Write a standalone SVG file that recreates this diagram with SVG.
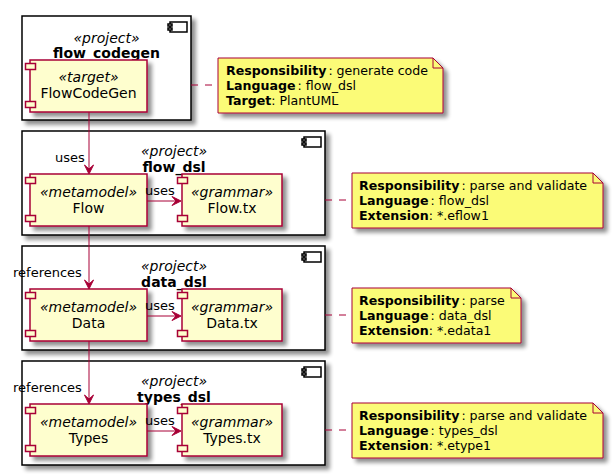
<svg xmlns="http://www.w3.org/2000/svg" width="613" height="475" viewBox="0 0 613 475">
<defs>
<filter id="sh" x="-10%" y="-10%" width="130%" height="130%">
<feGaussianBlur in="SourceAlpha" stdDeviation="2"/>
<feOffset dx="4" dy="4" result="b"/>
<feComponentTransfer><feFuncA type="linear" slope="0.45"/></feComponentTransfer>
<feMerge><feMergeNode/><feMergeNode in="SourceGraphic"/></feMerge>
</filter>
<g id="icon">
<rect x="2" y="0" width="17" height="10" fill="#FFFFFF" stroke="#000000" stroke-width="1.5"/>
<rect x="0" y="2" width="4" height="2" fill="#FFFFFF" stroke="#000000" stroke-width="1.5"/>
<rect x="0" y="6" width="4" height="2" fill="#FFFFFF" stroke="#000000" stroke-width="1.5"/>
</g>
</defs>
<style>
.proj{fill:#FFFFFF;stroke:#000000;stroke-width:1.5}
.comp{fill:#FEFECE;stroke:#A80036;stroke-width:1.5}
.tab{fill:#FEFECE;stroke:#A80036;stroke-width:1.5}
.note{fill:#FBFB77;stroke:#A80036;stroke-width:1}
.fold{fill:none;stroke:#A80036;stroke-width:1}
.t{font-family:"DejaVu Sans",sans-serif;fill:#000000}
.st{font-size:14px;font-style:italic;text-anchor:middle}
.nm{font-size:14px;text-anchor:middle}
.pn{font-size:14px;font-weight:bold;text-anchor:middle}
.lbl{font-size:13px}
.nt{font-size:12.6px}
.b{font-weight:bold}
.ln{stroke:#A80036;stroke-width:1;fill:none}
.dl{stroke:#A80036;stroke-width:1;fill:none;stroke-dasharray:7,7}
.ah{fill:#A80036;stroke:#A80036;stroke-width:1}
</style>

<g id="flow_codegen">
<rect class="proj" x="22" y="16" width="169" height="104" filter="url(#sh)"/>
<use href="#icon" x="168" y="22"/>
<text class="t st" x="106.5" y="43">«project»</text>
<text class="t pn" x="106.5" y="58">flow_codegen</text>
</g>
<g id="FlowCodeGen">
<rect class="comp" x="30" y="60" width="117" height="52" filter="url(#sh)"/>
<rect class="tab" x="25.5" y="63.5" width="10" height="6"/>
<rect class="tab" x="25.5" y="101.5" width="10" height="6"/>
<text class="t st" x="88.5" y="82">«target»</text>
<text class="t nm" x="88.5" y="98">FlowCodeGen</text>
</g>

<g id="flow_dsl">
<rect class="proj" x="22" y="131" width="303" height="104" filter="url(#sh)"/>
<use href="#icon" x="302" y="137"/>
<text class="t st" x="174" y="156">«project»</text>
<text class="t pn" x="174" y="172">flow_dsl</text>
</g>
<g id="Flow">
<rect class="comp" x="30" y="174" width="117" height="52" filter="url(#sh)"/>
<rect class="tab" x="25.5" y="177.5" width="10" height="6"/>
<rect class="tab" x="25.5" y="215.5" width="10" height="6"/>
<text class="t st" x="88.5" y="196.5">«metamodel»</text>
<text class="t nm" x="88.5" y="212.5">Flow</text>
</g>
<g id="Flow_tx">
<rect class="comp" x="182" y="174" width="100" height="52" filter="url(#sh)"/>
<rect class="tab" x="177.5" y="177.5" width="10" height="6"/>
<rect class="tab" x="177.5" y="215.5" width="10" height="6"/>
<text class="t st" x="232" y="196.5">«grammar»</text>
<text class="t nm" x="232" y="212.5">Flow.tx</text>
</g>

<g id="data_dsl">
<rect class="proj" x="22" y="246" width="303" height="104" filter="url(#sh)"/>
<use href="#icon" x="302" y="252"/>
<text class="t st" x="174" y="271">«project»</text>
<text class="t pn" x="174" y="287">data_dsl</text>
</g>
<g id="Data">
<rect class="comp" x="30" y="289" width="117" height="52" filter="url(#sh)"/>
<rect class="tab" x="25.5" y="292.5" width="10" height="6"/>
<rect class="tab" x="25.5" y="330.5" width="10" height="6"/>
<text class="t st" x="88.5" y="311.5">«metamodel»</text>
<text class="t nm" x="88.5" y="327.5">Data</text>
</g>
<g id="Data_tx">
<rect class="comp" x="182" y="289" width="100" height="52" filter="url(#sh)"/>
<rect class="tab" x="177.5" y="292.5" width="10" height="6"/>
<rect class="tab" x="177.5" y="330.5" width="10" height="6"/>
<text class="t st" x="232" y="311.5">«grammar»</text>
<text class="t nm" x="232" y="327.5">Data.tx</text>
</g>

<g id="types_dsl">
<rect class="proj" x="22" y="361" width="303" height="104" filter="url(#sh)"/>
<use href="#icon" x="302" y="367"/>
<text class="t st" x="174" y="386">«project»</text>
<text class="t pn" x="174" y="402">types_dsl</text>
</g>
<g id="Types">
<rect class="comp" x="30" y="404" width="117" height="52" filter="url(#sh)"/>
<rect class="tab" x="25.5" y="407.5" width="10" height="6"/>
<rect class="tab" x="25.5" y="445.5" width="10" height="6"/>
<text class="t st" x="88.5" y="426.5">«metamodel»</text>
<text class="t nm" x="88.5" y="442.5">Types</text>
</g>
<g id="Types_tx">
<rect class="comp" x="182" y="404" width="100" height="52" filter="url(#sh)"/>
<rect class="tab" x="177.5" y="407.5" width="10" height="6"/>
<rect class="tab" x="177.5" y="445.5" width="10" height="6"/>
<text class="t st" x="232" y="426.5">«grammar»</text>
<text class="t nm" x="232" y="442.5">Types.tx</text>
</g>

<g id="note1">
<path class="note" d="M218,58 L433,58 L443,68 L443,113 L218,113 Z" filter="url(#sh)"/>
<path class="fold" d="M433,58 L433,68 L443,68"/>
<text class="t nt" x="226" y="75"><tspan class="b">Responsibility</tspan><tspan dx="2">: generate code</tspan></text>
<text class="t nt" x="226" y="90"><tspan class="b">Language</tspan><tspan dx="2">: flow_dsl</tspan></text>
<text class="t nt" x="226" y="105"><tspan class="b">Target</tspan><tspan>: PlantUML</tspan></text>
</g>
<g id="note2">
<path class="note" d="M352,173 L593,173 L603,183 L603,228 L352,228 Z" filter="url(#sh)"/>
<path class="fold" d="M593,173 L593,183 L603,183"/>
<text class="t nt" x="359" y="189.5"><tspan class="b">Responsibility</tspan><tspan dx="2">: parse and validate</tspan></text>
<text class="t nt" x="359" y="204.5"><tspan class="b">Language</tspan><tspan dx="2">: flow_dsl</tspan></text>
<text class="t nt" x="359" y="219.5"><tspan class="b">Extension</tspan><tspan>: *.eflow1</tspan></text>
</g>
<g id="note3">
<path class="note" d="M352,288 L511,288 L521,298 L521,343 L352,343 Z" filter="url(#sh)"/>
<path class="fold" d="M511,288 L511,298 L521,298"/>
<text class="t nt" x="359" y="304.5"><tspan class="b">Responsibility</tspan><tspan dx="2">: parse</tspan></text>
<text class="t nt" x="359" y="319.5"><tspan class="b">Language</tspan><tspan dx="2">: data_dsl</tspan></text>
<text class="t nt" x="359" y="334.5"><tspan class="b">Extension</tspan><tspan>: *.edata1</tspan></text>
</g>
<g id="note4">
<path class="note" d="M352,403 L593,403 L603,413 L603,458 L352,458 Z" filter="url(#sh)"/>
<path class="fold" d="M593,403 L593,413 L603,413"/>
<text class="t nt" x="359" y="419.5"><tspan class="b">Responsibility</tspan><tspan dx="2">: parse and validate</tspan></text>
<text class="t nt" x="359" y="434.5"><tspan class="b">Language</tspan><tspan dx="2">: types_dsl</tspan></text>
<text class="t nt" x="359" y="449.5"><tspan class="b">Extension</tspan><tspan>: *.etype1</tspan></text>
</g>

<g id="connectors">
<path class="ln" d="M89,112 L89,172"/>
<path class="ah" d="M89,174 L84.5,165 L89,169 L93.5,165 Z"/>
<text class="t lbl" x="55" y="162">uses</text>
<path class="ln" d="M147,201 L179,201"/>
<path class="ah" d="M181,201 L172,196.5 L176,201 L172,205.5 Z"/>
<text class="t lbl" x="145" y="195">uses</text>
<path class="ln" d="M89,226 L89,287"/>
<path class="ah" d="M89,289 L84.5,280 L89,284 L93.5,280 Z"/>
<text class="t lbl" x="13" y="277">references</text>
<path class="ln" d="M147,316 L179,316"/>
<path class="ah" d="M181,316 L172,311.5 L176,316 L172,320.5 Z"/>
<text class="t lbl" x="145" y="310">uses</text>
<path class="ln" d="M89,341 L89,402"/>
<path class="ah" d="M89,404 L84.5,395 L89,399 L93.5,395 Z"/>
<text class="t lbl" x="13" y="392">references</text>
<path class="ln" d="M147,431 L179,431"/>
<path class="ah" d="M181,431 L172,426.5 L176,431 L172,435.5 Z"/>
<text class="t lbl" x="145" y="425">uses</text>
<path class="dl" d="M191,85 L218,85"/>
<path class="dl" d="M325,200 L352,200"/>
<path class="dl" d="M325,315 L352,315"/>
<path class="dl" d="M325,430 L352,430"/>
</g>
</svg>
